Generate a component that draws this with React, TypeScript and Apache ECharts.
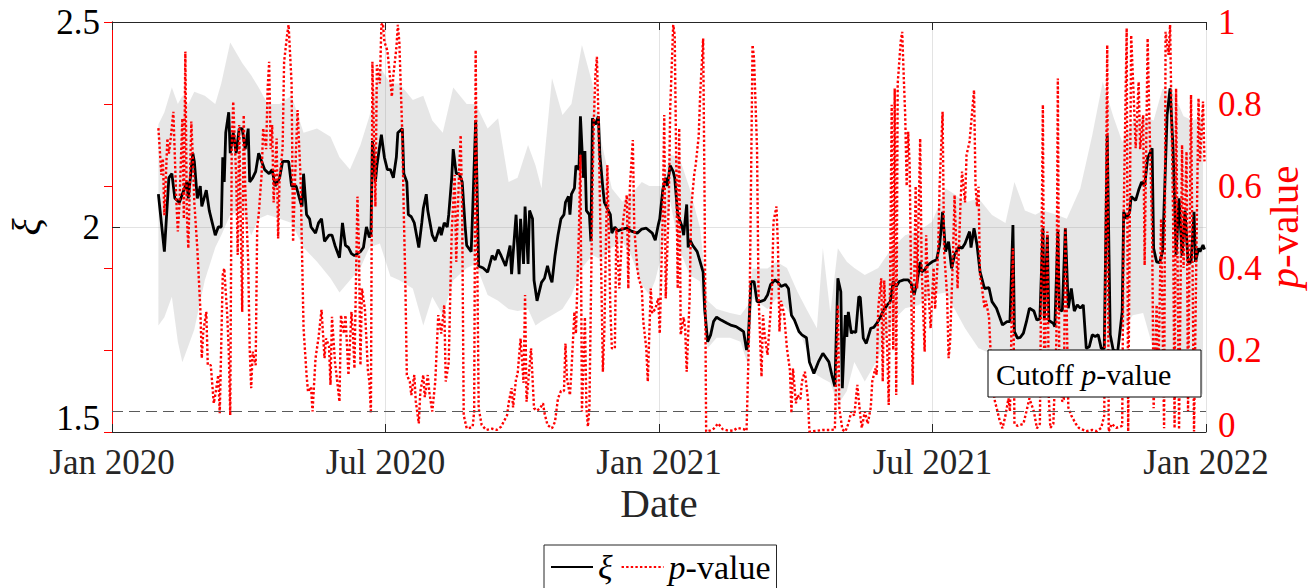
import React, { useEffect, useRef } from 'react';
import * as echarts from 'echarts';

// x values are days since 2020-01-01
const START_DATE = '2020-01-01';
const TOTAL_DAYS = 731; // to 2022-01-01
const xTickLabels = ['Jan 2020', 'Jul 2020', 'Jan 2021', 'Jul 2021', 'Jan 2022'];
const cutoffP = 0.05;

const xiDays = [31,35,38,40,42,45,48,50,51,54,55,57,59,60,63,65,67,69,71,73,74,75,76,78,79,81,83,85,87,89,91,92,94,96,98,100,102,105,107,109,112,114,118,120,123,126,127,128,130,132,133,136,138,140,142,145,147,149,152,154,156,158,160,162,166,168,170,172,173,174,176,177,180,182,184,186,188,190,191,194,195,197,198,200,202,205,207,208,210,211,212,214,216,219,220,222,224,225,227,228,230,232,234,236,237,240,241,243,245,248,251,254,256,258,260,263,266,267,270,272,273,275,276,278,279,281,282,284,287,289,291,293,294,296,298,300,302,303,305,306,307,309,310,312,313,315,316,317,319,320,321,323,325,326,328,329,331,333,334,336,338,341,344,347,351,354,357,361,363,365,366,368,370,371,373,375,376,378,381,382,384,385,386,388,391,393,395,396,398,400,402,404,407,411,414,417,420,422,424,425,427,429,431,433,436,438,440,443,445,447,450,452,454,456,459,461,464,466,469,472,475,479,481,483,485,487,488,490,491,492,494,495,497,499,500,502,504,507,509,511,513,515,518,520,522,524,526,529,532,534,536,538,540,541,543,545,548,551,553,555,557,559,561,563,566,568,570,573,574,576,578,580,583,586,588,591,595,598,600,602,603,605,607,609,611,613,616,618,620,622,623,625,626,629,630,632,633,635,637,639,641,643,645,647,649,651,653,655,657,659,661,663,665,667,669,672,675,676,678,680,681,684,686,688,690,692,695,696,698,700,702,704,705,707,709,710,711,713,715,717,719,721,723,724,726,727,729,730];
const xiValues = [2.08,1.94,2.12,2.13,2.07,2.06,2.09,2.11,2.07,2.18,2.16,2.07,2.10,2.05,2.09,2.04,2.01,1.98,2.00,2.00,2.17,2.11,2.23,2.28,2.18,2.23,2.18,2.24,2.24,2.19,2.24,2.11,2.12,2.135,2.18,2.16,2.14,2.13,2.14,2.10,2.12,2.16,2.16,2.10,2.10,2.06,2.05,2.13,2.03,2.02,2.00,1.985,2.01,2.02,1.965,1.98,1.98,1.955,1.925,2.01,1.955,1.95,1.935,1.93,1.94,1.95,2.00,1.975,1.98,2.21,2.11,2.15,2.225,2.17,2.14,2.14,2.12,2.17,2.23,2.24,2.13,2.11,2.03,2.025,2.01,1.95,2.01,2.045,2.08,2.04,2.02,1.98,1.965,2.00,1.98,2.01,2.00,2.03,2.12,2.19,2.13,2.13,2.11,2.00,1.955,1.94,2.04,2.26,1.905,1.90,1.89,1.93,1.92,1.945,1.93,1.905,1.955,1.885,2.03,1.885,2.02,1.91,2.05,1.91,2.04,2.02,1.87,1.82,1.865,1.875,1.905,1.875,1.865,1.93,1.98,2.02,2.03,2.06,2.075,2.03,2.08,2.095,2.15,2.14,2.27,2.12,2.185,2.04,2.03,1.965,2.265,2.25,2.27,2.175,2.095,2.06,2.045,2.03,1.985,2.00,1.99,1.995,1.997,1.99,1.985,1.995,1.997,1.985,1.968,2.005,2.02,2.09,2.12,2.10,2.15,2.135,2.12,2.03,2.00,1.98,2.055,1.95,1.97,1.955,1.94,1.915,1.89,1.80,1.72,1.737,1.77,1.78,1.773,1.765,1.76,1.757,1.75,1.745,1.70,1.716,1.867,1.867,1.818,1.818,1.822,1.834,1.859,1.871,1.865,1.855,1.86,1.85,1.785,1.773,1.745,1.737,1.73,1.671,1.643,1.671,1.692,1.671,1.639,1.611,1.875,1.842,1.607,1.785,1.732,1.793,1.741,1.745,1.743,1.83,1.828,1.729,1.716,1.753,1.755,1.765,1.777,1.793,1.81,1.818,1.867,1.855,1.867,1.871,1.871,1.862,1.834,1.867,1.915,1.891,1.895,1.907,1.915,1.92,1.956,2.037,1.94,1.964,1.899,1.932,1.952,1.948,1.96,1.989,1.95,1.997,1.956,1.891,1.85,1.852,1.818,1.802,1.761,1.769,1.769,2.005,1.745,1.729,1.731,1.741,1.769,1.802,1.795,1.773,1.776,1.997,1.775,1.98,1.772,1.765,1.757,1.989,1.798,1.795,1.997,1.802,1.85,1.795,1.81,1.802,1.81,1.704,1.708,1.737,1.733,1.737,1.704,1.704,2.224,1.737,1.70,1.696,1.793,2.037,2.02,2.037,2.074,2.065,2.09,2.11,2.10,2.168,2.192,1.948,1.915,1.913,1.94,2.159,2.273,2.338,2.19,2.07,1.932,2.07,1.93,2.04,1.915,1.913,2.037,1.915,1.948,1.94,1.956,1.945];

const pDays = [31,33,34,35,37,38,39,41,43,44,45,47,48,49,50,51,53,54,55,57,59,60,61,63,64,66,68,69,71,72,74,75,77,78,79,80,81,83,84,85,87,88,89,91,92,93,94,96,97,98,100,101,103,104,105,106,107,108,110,111,112,114,115,117,118,120,121,123,124,126,127,128,130,131,133,134,136,138,140,142,143,145,146,147,149,150,152,153,155,156,158,160,161,162,164,165,166,167,169,171,172,173,174,176,177,179,180,181,182,184,185,187,188,190,191,192,194,195,196,197,199,200,202,203,205,206,208,209,211,212,214,216,218,220,222,223,225,227,229,230,232,233,234,235,237,239,241,242,243,244,245,247,250,254,257,260,264,265,267,268,270,271,273,275,276,277,279,280,282,284,286,288,289,291,294,296,298,300,302,303,304,306,307,309,310,312,313,314,316,317,318,319,321,322,323,324,325,327,328,329,331,333,334,336,337,339,341,342,344,345,346,348,349,351,352,354,355,357,358,360,361,363,365,366,368,369,370,372,373,375,376,378,379,380,382,383,384,386,387,389,390,392,393,395,396,397,400,402,405,408,411,415,418,422,424,426,428,429,431,432,434,435,436,438,440,441,442,444,445,446,447,449,451,453,454,455,457,458,460,461,463,465,466,471,475,480,483,485,486,488,490,492,494,496,498,500,501,503,505,507,508,510,511,512,514,515,516,518,519,520,521,522,523,524,525,527,528,529,530,531,532,533,534,535,537,538,540,541,543,544,545,547,549,550,552,553,555,556,558,559,560,562,563,565,567,568,570,571,573,574,576,577,578,579,580,581,583,584,586,588,590,591,593,595,597,599,600,602,603,605,609,611,613,616,618,620,622,623,625,626,627,629,631,632,633,635,636,637,639,641,644,646,649,651,655,658,661,663,665,666,668,671,675,676,678,679,681,683,684,686,687,689,690,692,693,695,696,698,699,701,703,704,706,707,709,710,711,713,715,716,718,719,721,723,725,726,727,729,730];
const pValues = [0.741,0.627,0.667,0.529,0.716,0.679,0.708,0.781,0.562,0.489,0.55,0.765,0.52,0.928,0.529,0.448,0.757,0.67,0.56,0.448,0.302,0.18,0.245,0.293,0.163,0.163,0.07,0.09,0.139,0.046,0.383,0.399,0.285,0.2,0.041,0.692,0.806,0.62,0.432,0.749,0.293,0.773,0.6,0.415,0.204,0.107,0.196,0.163,0.497,0.529,0.63,0.741,0.69,0.838,0.903,0.69,0.749,0.56,0.716,0.472,0.62,0.692,0.903,0.968,0.993,0.85,0.464,0.692,0.785,0.62,0.432,0.253,0.139,0.098,0.11,0.05,0.18,0.23,0.298,0.18,0.228,0.21,0.115,0.281,0.171,0.139,0.074,0.285,0.24,0.285,0.139,0.293,0.24,0.155,0.574,0.45,0.163,0.35,0.3,0.15,0.123,0.046,0.903,0.55,0.895,0.85,0.993,0.997,0.952,0.93,0.895,0.818,0.87,0.936,0.993,0.95,0.724,0.529,0.367,0.139,0.123,0.09,0.139,0.074,0.021,0.098,0.139,0.085,0.139,0.098,0.05,0.123,0.285,0.24,0.31,0.123,0.17,0.489,0.627,0.415,0.643,0.724,0.53,0.041,0.009,0.01,0.013,0.05,0.932,0.448,0.058,0.017,0.005,0.008,0.005,0.013,0.041,0.07,0.107,0.06,0.131,0.14,0.228,0.12,0.334,0.074,0.16,0.204,0.058,0.052,0.058,0.07,0.046,0.017,0.009,0.025,0.082,0.1,0.1,0.216,0.13,0.09,0.15,0.293,0.24,0.489,0.676,0.05,0.28,0.058,0.013,0.058,0.586,0.765,0.871,0.915,0.773,0.367,0.147,0.25,0.651,0.3,0.204,0.204,0.497,0.35,0.497,0.529,0.578,0.35,0.594,0.712,0.497,0.399,0.375,0.35,0.27,0.204,0.123,0.35,0.29,0.3,0.326,0.24,0.529,0.773,0.326,0.55,0.79,0.993,0.968,0.35,0.741,0.237,0.28,0.25,0.147,0.33,0.546,0.627,0.651,0.72,0.822,0.96,0.55,0.001,0.004,0.008,0.021,0.007,0.004,0.003,0.01,0.007,0.003,0.285,0.944,0.911,0.692,0.334,0.135,0.285,0.24,0.188,0.29,0.35,0.513,0.55,0.45,0.245,0.32,0.29,0.204,0.15,0.046,0.155,0.07,0.09,0.08,0.123,0.147,0.08,0.001,0.003,0.005,0.005,0.006,0.31,0.058,0.006,0.001,0.02,0.05,0.04,0.115,0.04,0.01,0.05,0.02,0.06,0.123,0.155,0.14,0.302,0.375,0.123,0.37,0.2,0.066,0.399,0.798,0.2,0.838,0.09,0.85,0.952,0.976,0.87,0.773,0.6,0.732,0.65,0.35,0.115,0.6,0.35,0.716,0.4,0.196,0.48,0.38,0.253,0.4,0.3,0.44,0.6,0.781,0.44,0.334,0.18,0.22,0.44,0.578,0.35,0.562,0.635,0.56,0.676,0.708,0.75,0.834,0.6,0.55,0.598,0.38,0.36,0.302,0.32,0.28,0.123,0.074,0.06,0.03,0.009,0.04,0.082,0.05,0.448,0.02,0.015,0.02,0.05,0.082,0.05,0.009,0.02,0.798,0.09,0.489,0.08,0.01,0.02,0.22,0.862,0.12,0.074,0.08,0.497,0.06,0.04,0.02,0.01,0.005,0.002,0.005,0.002,0.01,0.04,0.944,0.001,0.02,0.01,0.015,0.529,0.985,0.001,0.968,0.79,0.692,0.854,0.69,0.773,0.407,0.96,0.79,0.49,0.058,0.31,0.09,0.52,0.009,0.976,0.92,0.993,0.53,0.009,0.838,0.006,0.7,0.4,0.684,0.05,0.822,0.001,0.55,0.814,0.66,0.806,0.66];

const bandDays = [31,35,40,44,47,51,55,62,69,73,79,87,93,98,104,112,120,128,137,146,152,159,166,172,179,186,192,201,208,214,221,228,237,243,251,258,265,271,278,283,287,294,301,307,314,321,327,334,341,347,354,359,363,367,373,379,386,393,398,404,413,420,425,428,438,444,451,458,464,471,475,480,485,491,496,503,512,521,530,539,548,557,563,570,579,588,597,603,610,617,622,631,638,647,655,662,669,675,682,689,696,702,709,716,722,729];
const bandUpper = [2.25,2.28,2.34,2.30,2.32,2.30,2.33,2.32,2.30,2.35,2.45,2.40,2.37,2.34,2.30,2.30,2.32,2.23,2.24,2.22,2.17,2.14,2.20,2.27,2.39,2.35,2.35,2.31,2.32,2.26,2.23,2.34,2.30,2.30,2.24,2.265,2.11,2.12,2.20,2.15,2.094,2.363,2.273,2.30,2.444,2.35,2.208,2.094,2.062,2.08,2.11,2.10,2.10,2.10,2.176,2.17,2.094,1.997,1.82,1.80,1.79,1.785,1.81,1.899,1.899,1.915,1.90,1.842,1.80,1.753,1.948,1.79,1.948,1.915,1.90,1.883,1.90,1.948,1.98,1.99,2.013,2.094,2.08,2.06,2.07,2.029,2.01,2.11,2.04,2.03,2.04,2.03,2.02,2.094,2.224,2.354,2.27,2.208,2.257,2.27,2.26,2.338,2.33,2.27,2.26,2.27];
const bandLower = [1.76,1.78,1.83,1.72,1.67,1.71,1.75,1.87,1.95,1.98,2.03,2.04,1.98,2.02,2.03,2.02,2.01,1.95,1.915,1.875,1.84,1.87,1.90,1.95,1.96,1.88,1.87,1.85,1.76,1.83,1.785,1.87,1.90,1.91,1.834,1.82,1.80,1.795,1.80,1.76,1.77,1.785,1.80,1.834,1.90,1.932,1.92,1.95,1.964,1.93,1.86,1.834,1.87,1.93,2.062,1.948,1.883,1.867,1.704,1.73,1.73,1.72,1.663,1.826,1.80,1.826,1.80,1.76,1.70,1.639,1.63,1.62,1.566,1.60,1.671,1.623,1.68,1.769,1.802,1.81,1.834,1.84,1.80,1.753,1.704,1.69,1.671,1.665,1.66,1.655,1.66,1.665,1.66,1.639,1.63,1.704,1.63,1.745,1.785,1.79,1.70,1.623,1.64,1.623,1.62,1.59];

const FONT = '"Liberation Serif", "Times New Roman", serif';
const AXIS_COLOR = '#262626';
const RED = '#ff0000';
const TICK_STEP = TOTAL_DAYS / 4;

function zip(xs: number[], ys: number[]) {
  return xs.map((x, i) => [x, ys[i]]);
}

export default function App() {
  const ref = useRef<HTMLDivElement>(null);
  useEffect(() => {
    if (!ref.current) return;
    const chart = echarts.init(ref.current, null, { renderer: 'svg' });
    const xAxisCommon = {
      type: 'value',
      min: 0,
      max: TOTAL_DAYS,
      interval: TICK_STEP,
      nameMoveOverlap: false,
      axisLine: { show: true, lineStyle: { color: AXIS_COLOR, width: 1 } },
      axisTick: { show: true, inside: true, length: 8, lineStyle: { color: AXIS_COLOR } },
    };
    const option: any = {
      animation: false,
      backgroundColor: '#ffffff',
      grid: { left: 112, right: 104, top: 22, bottom: 156, containLabel: false, outerBoundsMode: 'none' },
      xAxis: [
        {
          ...xAxisCommon,
          position: 'bottom',
          name: 'Date',
          nameLocation: 'middle',
          nameGap: 50,
          nameTextStyle: { fontFamily: FONT, fontSize: 41, color: AXIS_COLOR },
          axisLabel: {
            show: true,
            margin: 15,
            lineHeight: 30,
            fontFamily: FONT,
            fontSize: 35,
            color: AXIS_COLOR,
            hideOverlap: false,
            formatter: (v: number) => xTickLabels[Math.round(v / TICK_STEP)] ?? '',
          },
          splitLine: { show: true, lineStyle: { color: '#e3e3e3', width: 1 } },
        },
        {
          ...xAxisCommon,
          position: 'top',
          axisLabel: { show: false },
          splitLine: { show: false },
        },
      ],
      yAxis: [
        {
          type: 'value',
          position: 'left',
          min: 1.5,
          max: 2.5,
          interval: 0.5,
          name: 'ξ',
          nameLocation: 'middle',
          nameRotate: 90,
          nameGap: 66,
          nameMoveOverlap: false,
          nameTextStyle: { fontFamily: FONT, fontSize: 40, fontStyle: 'italic', color: '#000' },
          axisLine: { show: true, lineStyle: { color: AXIS_COLOR, width: 1 } },
          axisTick: { show: true, inside: true, length: 8, lineStyle: { color: AXIS_COLOR } },
          axisLabel: {
            show: true,
            margin: 12,
            lineHeight: 28,
            verticalAlignMinLabel: 'bottom',
            fontFamily: FONT,
            fontSize: 35,
            color: '#000',
          },
          splitLine: { show: true, lineStyle: { color: '#e3e3e3', width: 1 } },
        },
        {
          type: 'value',
          position: 'right',
          min: 0,
          max: 1,
          interval: 0.2,
          name: '{i|p}-value',
          nameLocation: 'middle',
          nameRotate: 90,
          nameGap: 57,
          nameMoveOverlap: false,
          nameTextStyle: {
            fontFamily: FONT,
            fontSize: 41,
            color: RED,
            rich: { i: { fontFamily: FONT, fontSize: 41, fontStyle: 'italic', color: RED } },
          },
          axisLine: { show: true, lineStyle: { color: RED, width: 1 } },
          axisTick: { show: true, inside: true, length: 8, lineStyle: { color: RED } },
          axisLabel: {
            show: true,
            margin: 12,
            lineHeight: 14,
            verticalAlignMinLabel: 'bottom',
            fontFamily: FONT,
            fontSize: 35,
            color: RED,
          },
          splitLine: { show: false },
        },
      ],
      legend: {
        data: ['ξ', 'p-value'],
        left: 544,
        top: 545,
        orient: 'horizontal',
        padding: [5, 6, 5, 6],
        itemGap: 8,
        itemWidth: 42,
        itemHeight: 14,
        backgroundColor: '#ffffff',
        borderColor: AXIS_COLOR,
        borderWidth: 1,
        borderRadius: 0,
        itemStyle: { opacity: 0 },
        formatter: (name: string) => (name === 'ξ' ? '{i|ξ}' : '{i|p}-value'),
        textStyle: {
          fontFamily: FONT,
          fontSize: 34,
          color: '#000',
          rich: { i: { fontFamily: FONT, fontSize: 34, fontStyle: 'italic', color: '#000' } },
        },
      },
      series: [
        {
          type: 'custom',
          name: 'band',
          xAxisIndex: 0,
          yAxisIndex: 0,
          silent: true,
          z: 1,
          data: [[bandDays[0], bandLower[0]]],
          renderItem: (_params: any, api: any) => {
            const pts: number[][] = [];
            for (let i = 0; i < bandDays.length; i++) pts.push(api.coord([bandDays[i], bandUpper[i]]));
            for (let i = bandDays.length - 1; i >= 0; i--) pts.push(api.coord([bandDays[i], bandLower[i]]));
            return { type: 'polygon', shape: { points: pts }, style: { fill: 'rgba(140,140,140,0.22)', stroke: 'none' } };
          },
        },
        {
          type: 'line',
          name: 'ξ',
          xAxisIndex: 0,
          yAxisIndex: 0,
          z: 2,
          symbol: 'none',
          data: zip(xiDays, xiValues),
          lineStyle: { color: '#000000', width: 2.8 },
          itemStyle: { color: '#000000' },
        },
        {
          type: 'line',
          name: 'p-value',
          xAxisIndex: 0,
          yAxisIndex: 1,
          z: 3,
          symbol: 'none',
          data: zip(pDays, pValues),
          lineStyle: { color: RED, width: 2.4, type: [2.4, 2.2] },
          itemStyle: { color: RED },
          markLine: {
            silent: true,
            symbol: ['none', 'none'],
            label: { show: false },
            lineStyle: { color: '#5a5a5a', width: 1.2, type: [11, 6] },
            data: [{ yAxis: cutoffP }],
          },
        },
      ],
      graphic: [
        {
          type: 'group',
          z: 100,
          children: [
            {
              type: 'rect',
              z: 100,
              shape: { x: 988, y: 350, width: 213, height: 47 },
              style: { fill: '#ffffff', stroke: '#000000', lineWidth: 1 },
            },
            {
              type: 'text',
              z: 101,
              x: 996,
              y: 374,
              style: {
                text: '{a|Cutoff }{b|p}{a|-value}',
                verticalAlign: 'middle',
                rich: {
                  a: { fontFamily: FONT, fontSize: 30, fill: '#000' },
                  b: { fontFamily: FONT, fontSize: 30, fontStyle: 'italic', fill: '#000' },
                },
              },
            },
          ],
        },
      ],
    };
    chart.setOption(option);
    return () => chart.dispose();
  }, []);
  return (
    <div
      ref={ref}
      data-start={START_DATE}
      style={{ position: 'absolute', left: 0, top: 0, width: 1310, height: 588, background: '#fff' }}
    />
  );
}
